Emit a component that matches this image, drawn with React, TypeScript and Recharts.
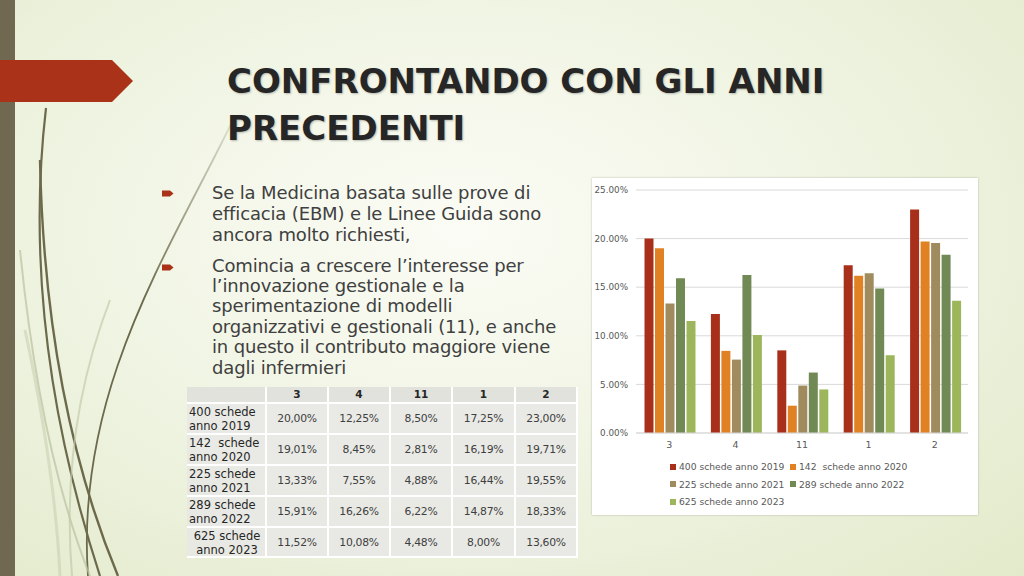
import React from 'react'
import { BarChart, Bar, XAxis, YAxis, CartesianGrid, Legend } from 'recharts'

const categories = ['3', '4', '11', '1', '2']
const seriesNames = [
  '400 schede anno 2019',
  '142  schede anno 2020',
  '225 schede anno 2021',
  '289 schede anno 2022',
  '625 schede anno 2023',
]
const rowLabels = [
  ['400 schede', 'anno 2019'],
  ['142  schede', 'anno 2020'],
  ['225 schede', 'anno 2021'],
  ['289 schede', 'anno 2022'],
  ['625 schede', 'anno 2023'],
]
const s2019 = [20.0, 12.25, 8.5, 17.25, 23.0]
const s2020 = [19.01, 8.45, 2.81, 16.19, 19.71]
const s2021 = [13.33, 7.55, 4.88, 16.44, 19.55]
const s2022 = [15.91, 16.26, 6.22, 14.87, 18.33]
const s2023 = [11.52, 10.08, 4.48, 8.0, 13.6]
const yTicks = [0, 5, 10, 15, 20, 25]

const series = [s2019, s2020, s2021, s2022, s2023]
const COLORS = ['#a8301a', '#e08224', '#a08b5e', '#718a55', '#9db65c']
const KEYS = ['y2019', 'y2020', 'y2021', 'y2022', 'y2023']

const data = categories.map((c, i) => {
  const row: Record<string, string | number> = { cat: c }
  KEYS.forEach((k, j) => { row[k] = series[j][i] })
  return row
})

const fmtTable = (v: number) => v.toFixed(2).replace('.', ',') + '%'

const FONT = '"DejaVu Sans", sans-serif'

function BulletMark() {
  return (
    <svg width={12} height={9} style={{ position: 'absolute', left: -50, top: 7 }}>
      <path d="M0 1.5 L8 1.5 L11.5 4.5 L8 7.5 L0 7.5 Z" fill="#a93218" />
    </svg>
  )
}

function ChartLegend() {
  return (
    <div style={{ height: 60, paddingLeft: 78, paddingTop: 3, boxSizing: 'border-box', fontFamily: FONT, fontSize: 9.2, color: '#595959' }}>
      {[0, 1, 2].map((r) => (
        <div key={r} style={{ display: 'flex', height: 17.5, alignItems: 'center' }}>
          {[0, 1].map((c) => {
            const i = r * 2 + c
            if (i >= seriesNames.length) return null
            return (
              <div key={c} style={{ width: 120, display: 'flex', alignItems: 'center', whiteSpace: 'pre' }}>
                <span style={{ width: 6, height: 6, background: COLORS[i], marginRight: 3, display: 'inline-block' }} />
                {seriesNames[i]}
              </div>
            )
          })}
        </div>
      ))}
    </div>
  )
}

export default function App() {
  const colW = [80, 62, 62, 62, 63, 62]
  const rowH = [31, 31, 31, 31, 30]
  return (
    <div
      style={{
        position: 'absolute', left: 0, top: 0, width: 1024, height: 576, overflow: 'hidden',
        background: 'radial-gradient(ellipse at 45% 40%, #fbfcf5 0%, #eef3e0 55%, #e2eaca 100%)',
        fontFamily: FONT,
      }}
    >
      {/* left stripe and grass */}
      <div style={{ position: 'absolute', left: 0, top: 0, width: 15, height: 576, background: '#706851' }} />
      <svg width={260} height={576} style={{ position: 'absolute', left: 0, top: 0 }}>
        <defs>
          <linearGradient id="fade" gradientUnits="userSpaceOnUse" x1="0" y1="120" x2="0" y2="300">
            <stop offset="0" stopColor="#6d6a4c" stopOpacity={0.15} />
            <stop offset="1" stopColor="#6d6a4c" stopOpacity={1} />
          </linearGradient>
        </defs>
        <path d="M46 108 Q20 330 100 576" stroke="#6d6a4c" strokeWidth={2.2} fill="none" />
        <path d="M40 160 Q45 400 118 576" stroke="#6d6a4c" strokeWidth={2.4} fill="none" />
        <path d="M232 122 C170 250, 75 390, 88 576" stroke="url(#fade)" strokeWidth={1.8} fill="none" />
        <path d="M20 250 Q40 450 90 576" stroke="#b9c2a0" strokeWidth={2} fill="none" opacity={0.7} />
        <path d="M110 300 Q60 430 72 576" stroke="#c3cba9" strokeWidth={2} fill="none" opacity={0.7} />
        <path d="M25 330 Q55 470 60 576" stroke="#c9d0b0" strokeWidth={3} fill="none" opacity={0.6} />
      </svg>
      {/* red arrow banner */}
      <svg width={140} height={50} style={{ position: 'absolute', left: 0, top: 58 }}>
        <path d="M0 2 L112 2 L133 23 L112 44 L0 44 Z" fill="#a93218" />
      </svg>

      {/* title */}
      <div
        style={{
          position: 'absolute', left: 227, top: 58, fontSize: 34, fontWeight: 'bold', lineHeight: '47px',
          color: '#262626', textShadow: '1px 1px 2px rgba(0,0,0,0.25)',
        }}
      >
        CONFRONTANDO CON GLI ANNI
        <br />
        PRECEDENTI
      </div>

      {/* bullets */}
      <div style={{ position: 'absolute', left: 212, top: 182, width: 390, fontSize: 18, color: '#404040', letterSpacing: -0.15 }}>
        <div style={{ position: 'relative', lineHeight: '21.2px' }}>
          <BulletMark />
          Se la Medicina basata sulle prove di
          <br />efficacia (EBM) e le Linee Guida sono
          <br />ancora molto richiesti,
        </div>
        <div style={{ position: 'relative', lineHeight: '20.4px', marginTop: 10 }}>
          <BulletMark />
          Comincia a crescere l’interesse per
          <br />l’innovazione gestionale e la
          <br />sperimentazione di modelli
          <br />organizzativi e gestionali (11), e anche
          <br />in questo il contributo maggiore viene
          <br />dagli infermieri
        </div>
      </div>

      {/* table */}
      <div style={{ position: 'absolute', left: 187, top: 387, width: 392 }}>
        <div style={{ display: 'flex', height: 17 }}>
          <div style={{ width: colW[0], background: 'rgba(222,222,218,0.85)', borderRight: '2px solid #fff', borderBottom: '2px solid #fff', boxSizing: 'border-box' }} />
          {categories.map((c, i) => (
            <div
              key={c}
              style={{
                width: colW[i + 1], background: 'rgba(222,222,218,0.85)', fontSize: 10.5, fontWeight: 'bold',
                textAlign: 'center', lineHeight: '15px', color: '#262626',
                borderRight: '2px solid #fff', borderBottom: '2px solid #fff', boxSizing: 'border-box',
              }}
            >
              {c}
            </div>
          ))}
        </div>
        {series.map((s, r) => (
          <div key={r} style={{ display: 'flex', height: rowH[r] }}>
            <div
              style={{
                width: colW[0], background: 'rgba(232,232,229,0.85)', fontSize: 11.5, lineHeight: '13.5px',
                color: '#262626', padding: '2px 0 0 2px', whiteSpace: 'pre', textAlign: r === 4 ? 'center' : 'left',
                borderRight: '2px solid #fff', borderBottom: '2px solid #fff', boxSizing: 'border-box',
              }}
            >
              {rowLabels[r][0]}
              <br />
              {rowLabels[r][1]}
            </div>
            {s.map((v, i) => (
              <div
                key={i}
                style={{
                  width: colW[i + 1], background: 'rgba(232,232,229,0.85)', fontSize: 10.8, color: '#404040',
                  display: 'flex', alignItems: 'center', justifyContent: 'center', letterSpacing: -0.3,
                  borderRight: '2px solid #fff', borderBottom: '2px solid #fff', boxSizing: 'border-box',
                }}
              >
                {fmtTable(v)}
              </div>
            ))}
          </div>
        ))}
      </div>

      {/* chart panel */}
      <div
        style={{
          position: 'absolute', left: 592, top: 178, width: 386, height: 337, background: '#fff',
          boxShadow: '0 0 2px rgba(0,0,0,0.25)',
        }}
      >
        <BarChart
          width={386}
          height={337}
          data={data}
          margin={{ top: 12, right: 10, left: 0, bottom: 0 }}
          barCategoryGap="12.8%"
          barGap={1.5}
        >
          <CartesianGrid vertical={false} stroke="#d9d9d9" />
          <XAxis
            dataKey="cat"
            height={22}
            tickLine={false}
            axisLine={{ stroke: '#d9d9d9' }}
            tick={{ fontSize: 9.5, fill: '#595959', fontFamily: FONT }}
          />
          <YAxis
            width={44}
            domain={[0, 25]}
            ticks={yTicks}
            tickLine={false}
            axisLine={false}
            tickFormatter={(v: number) => v.toFixed(2) + '%'}
            tick={{ fontSize: 8.8, fill: '#595959', fontFamily: FONT }}
          />
          {KEYS.map((k, i) => (
            <Bar key={k} dataKey={k} name={seriesNames[i]} fill={COLORS[i]} isAnimationActive={false} />
          ))}
          <Legend verticalAlign="bottom" height={60} content={() => <ChartLegend />} />
        </BarChart>
      </div>
    </div>
  )
}
